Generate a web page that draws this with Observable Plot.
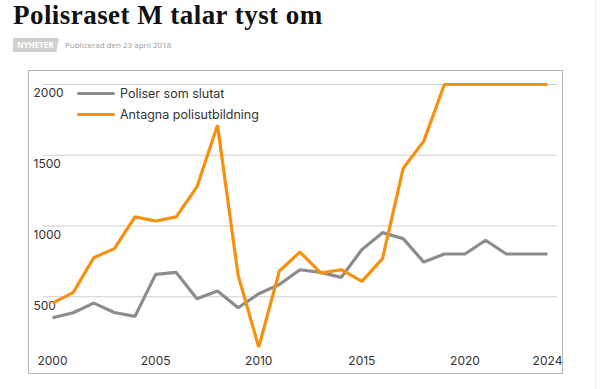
<!DOCTYPE html>
<html>
<head>
<meta charset="utf-8">
<script src="https://cdn.jsdelivr.net/npm/d3@7"></script>
<script src="https://cdn.jsdelivr.net/npm/@observablehq/plot@0.6"></script>
<style>
  html, body { margin: 0; padding: 0; background: #fff; }
  #page { position: relative; width: 600px; height: 389px; overflow: hidden; }
  #title { position: absolute; left: 13px; top: 0px; font-family: "Liberation Serif", serif; font-weight: bold; font-size: 27px; line-height: normal; letter-spacing: 0.45px; color: #111; white-space: nowrap; }
  #tag { position: absolute; left: 13px; top: 38px; width: 46px; height: 14px; background: #cfcfcf; clip-path: polygon(0 0, 100% 0, 94% 100%, 0 100%); color: #fff; font-family: "Open Sans", sans-serif; font-weight: bold; font-size: 8px; line-height: 14px; padding-left: 4px; box-sizing: border-box; }
  #pub { position: absolute; left: 65px; top: 38px; font-family: "Open Sans", sans-serif; font-size: 8px; line-height: 14px; color: #9a9a9a; white-space: nowrap; }
  #frame { position: absolute; left: 28px; top: 70px; width: 535px; height: 304px; border: 1.5px solid #b5b5b5; box-sizing: border-box; }
  #sideline { position: absolute; left: 595px; top: 0; width: 1px; height: 389px; background: #eee; }
  #chart { position: absolute; left: 0; top: 62px; }
  #legend { position: absolute; left: 77px; top: 83px; font-family: "Inter", "Roboto", sans-serif; font-size: 12.5px; color: #333; }
  .item { display: flex; align-items: center; height: 21px; }
  .sw { width: 38px; height: 3.5px; border-radius: 2px; margin-right: 5px; }
</style>
</head>
<body>
<div id="page">
  <div id="title">Polisraset M talar tyst om</div>
  <div id="tag">NYHETER</div>
  <div id="pub">Publicerad den 23 april 2018</div>
  <div id="sideline"></div>
  <div id="frame"></div>
  <div id="chart"></div>
  <div id="legend"></div>
</div>
<script>
const years = d3.range(2000, 2025);
const seriesNames = ["Poliser som slutat", "Antagna polisutbildning"];
const seriesColors = ["#8c8c8c", "#f7900f"];
const slutat = [352, 387, 455, 389, 361, 658, 672, 486, 540, 422, 521, 587, 691, 672, 637, 833, 953, 911, 745, 802, 802, 899, 802, 802, 802];
const antagna = [455, 529, 776, 840, 1064, 1035, 1064, 1276, 1712, 651, 144, 682, 816, 668, 691, 609, 769, 1406, 1600, 2000, 2000, 2000, 2000, 2000, 2000];
const yTicks = [500, 1000, 1500, 2000];
const xTicks = [2000, 2005, 2010, 2015, 2020, 2024];

const rows = [];
years.forEach((yr, i) => {
  rows.push({year: yr, value: slutat[i], series: seriesNames[0]});
  rows.push({year: yr, value: antagna[i], series: seriesNames[1]});
});

const W = 600, H = 327;
const chart = Plot.plot({
  width: W,
  height: H,
  marginLeft: 52,
  marginRight: 53,
  marginTop: 22,
  marginBottom: 22,
  x: {domain: [2000, 2024], axis: null},
  y: {domain: [0, 2000], axis: null},
  color: {domain: seriesNames, range: seriesColors},
  style: {background: "transparent", fontFamily: "Inter, Roboto, sans-serif"},
  marks: [
    Plot.ruleY(yTicks, {stroke: "#cfcfcf", strokeWidth: 1.2, insetLeft: -9, insetRight: -10}),
    Plot.text(yTicks, {y: d => d, text: d => String(d), frameAnchor: "left", textAnchor: "start", dx: -19, dy: 9, fontSize: 12, fill: "#333"}),
    Plot.text(xTicks, {x: d => d, text: d => String(d), frameAnchor: "bottom", dy: -3, fontSize: 12, fill: "#333"}),
    Plot.line(rows, {x: "year", y: "value", z: "series", stroke: "series", strokeWidth: 3.2, strokeLinejoin: "miter", strokeLinecap: "butt"})
  ]
});
document.getElementById("chart").appendChild(chart);

const legend = document.getElementById("legend");
seriesNames.forEach((name, i) => {
  const it = document.createElement("div");
  it.className = "item";
  const sw = document.createElement("div");
  sw.className = "sw";
  sw.style.background = seriesColors[i];
  const t = document.createElement("span");
  t.textContent = name;
  it.appendChild(sw); it.appendChild(t);
  legend.appendChild(it);
});
</script>
</body>
</html>
